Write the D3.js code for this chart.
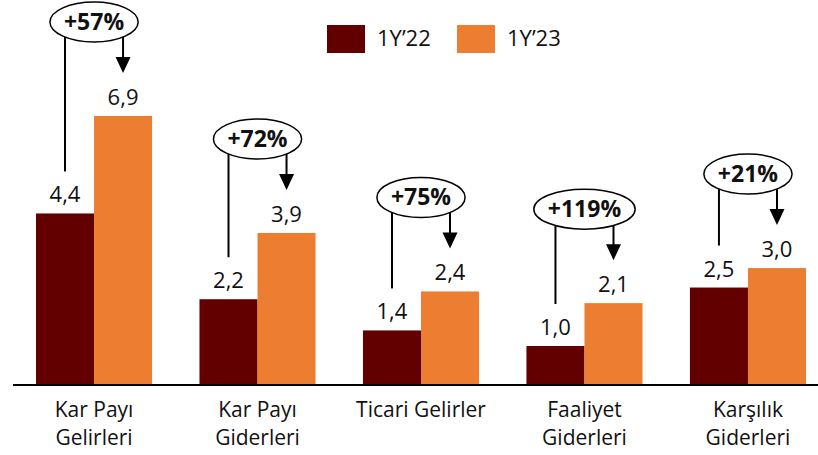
<!DOCTYPE html>
<html>
<head>
<meta charset="utf-8">
<script src="https://cdn.jsdelivr.net/npm/d3@7"></script>
<style>
  body { margin: 0; background: #fff; }
  svg text { font-family: "Open Sans", sans-serif; fill: #111; }
</style>
</head>
<body>
<div id="chart"></div>
<script>
const categories = ['Kar Payı\nGelirleri', 'Kar Payı\nGiderleri', 'Ticari Gelirler', 'Faaliyet\nGiderleri', 'Karşılık\nGiderleri'];
const series = ['1Y’22', '1Y’23'];
const values22 = [4.4, 2.2, 1.4, 1.0, 2.5];
const values23 = [6.9, 3.9, 2.4, 2.1, 3.0];
const growth = ['+57%', '+72%', '+75%', '+119%', '+21%'];

const colors = ['#620000', '#ED7D31'];
const width = 818, height = 455;
const baseY = 385;

const svg = d3.select('#chart')
  .append('svg')
  .attr('width', width)
  .attr('height', height);

// scales
const x0 = d3.scaleBand()
  .domain(d3.range(categories.length))
  .range([36, 806])
  .paddingInner(0.29)
  .paddingOuter(0);

const x1 = d3.scaleBand()
  .domain([0, 1])
  .range([0, x0.bandwidth()]);

const y = d3.scaleLinear()
  .domain([0, 6.9])
  .range([baseY, 116]);

const fmt = v => d3.format('.1f')(v).replace('.', ',');

// bars
const groups = svg.selectAll('.grp')
  .data(categories.map((c, i) => ({ i, vals: [values22[i], values23[i]] })))
  .enter()
  .append('g')
  .attr('class', 'grp')
  .attr('transform', d => `translate(${x0(d.i)},0)`);

groups.selectAll('rect')
  .data(d => d.vals.map((v, s) => ({ v, s })))
  .enter()
  .append('rect')
  .attr('x', d => x1(d.s))
  .attr('y', d => y(d.v))
  .attr('width', x1.bandwidth())
  .attr('height', d => baseY - y(d.v))
  .attr('fill', d => colors[d.s]);

groups.selectAll('.val')
  .data(d => d.vals.map((v, s) => ({ v, s })))
  .enter()
  .append('text')
  .attr('class', 'val')
  .attr('x', d => x1(d.s) + x1.bandwidth() / 2)
  .attr('y', d => y(d.v) - 11)
  .attr('text-anchor', 'middle')
  .attr('font-size', 22)
  .text(d => fmt(d.v));

// growth annotations
groups.each(function (d) {
  const g = d3.select(this);
  const cx = x0.bandwidth() / 2;
  const leftX = x1(0) + x1.bandwidth() / 2;
  const rightX = x1(1) + x1.bandwidth() / 2;
  const tipY = y(d.vals[1]) - 43;
  const cy = tipY - 51;
  const leftEnd = y(d.vals[0]) - 42;

  g.append('line')
    .attr('x1', leftX).attr('x2', leftX)
    .attr('y1', cy).attr('y2', leftEnd)
    .attr('stroke', '#000').attr('stroke-width', 2);
  g.append('line')
    .attr('x1', rightX).attr('x2', rightX)
    .attr('y1', cy).attr('y2', tipY - 14)
    .attr('stroke', '#000').attr('stroke-width', 2);
  g.append('path')
    .attr('d', `M${rightX - 7.5},${tipY - 16}L${rightX + 7.5},${tipY - 16}L${rightX},${tipY}Z`)
    .attr('fill', '#000');

  const ell = g.append('ellipse')
    .attr('cx', cx).attr('cy', cy)
    .attr('ry', 20)
    .attr('fill', '#fff')
    .attr('stroke', '#000')
    .attr('stroke-width', 1.5);
  const t = g.append('text')
    .attr('x', cx).attr('y', cy + 8)
    .attr('text-anchor', 'middle')
    .attr('font-size', 23)
    .attr('font-weight', 'bold')
    .text(growth[d.i]);
  const w = t.node().getComputedTextLength();
  ell.attr('rx', w / 2 + 14);
});

// x axis
svg.append('line')
  .attr('x1', 13).attr('x2', 818)
  .attr('y1', baseY).attr('y2', baseY)
  .attr('stroke', '#000').attr('stroke-width', 2);

const xaxis = svg.append('g')
  .attr('transform', `translate(0,${baseY})`)
  .call(d3.axisBottom(x0).tickSize(0).tickFormat(''));
xaxis.select('.domain').remove();

xaxis.selectAll('.tick').each(function (i) {
  const lines = categories[i].split('\n');
  lines.forEach((l, k) => {
    d3.select(this).append('text')
      .attr('text-anchor', 'middle')
      .attr('font-size', 21)
      .attr('x', 0)
      .attr('y', 32 + k * 28)
      .text(l);
  });
});

// legend
const legend = svg.append('g').attr('transform', 'translate(327,25)');
series.forEach((s, k) => {
  legend.append('rect')
    .attr('x', k * 130).attr('y', 0)
    .attr('width', 38).attr('height', 28)
    .attr('fill', colors[k]);
  legend.append('text')
    .attr('x', k * 130 + 50).attr('y', 21)
    .attr('font-size', 22)
    .text(s);
});
</script>
</body>
</html>
